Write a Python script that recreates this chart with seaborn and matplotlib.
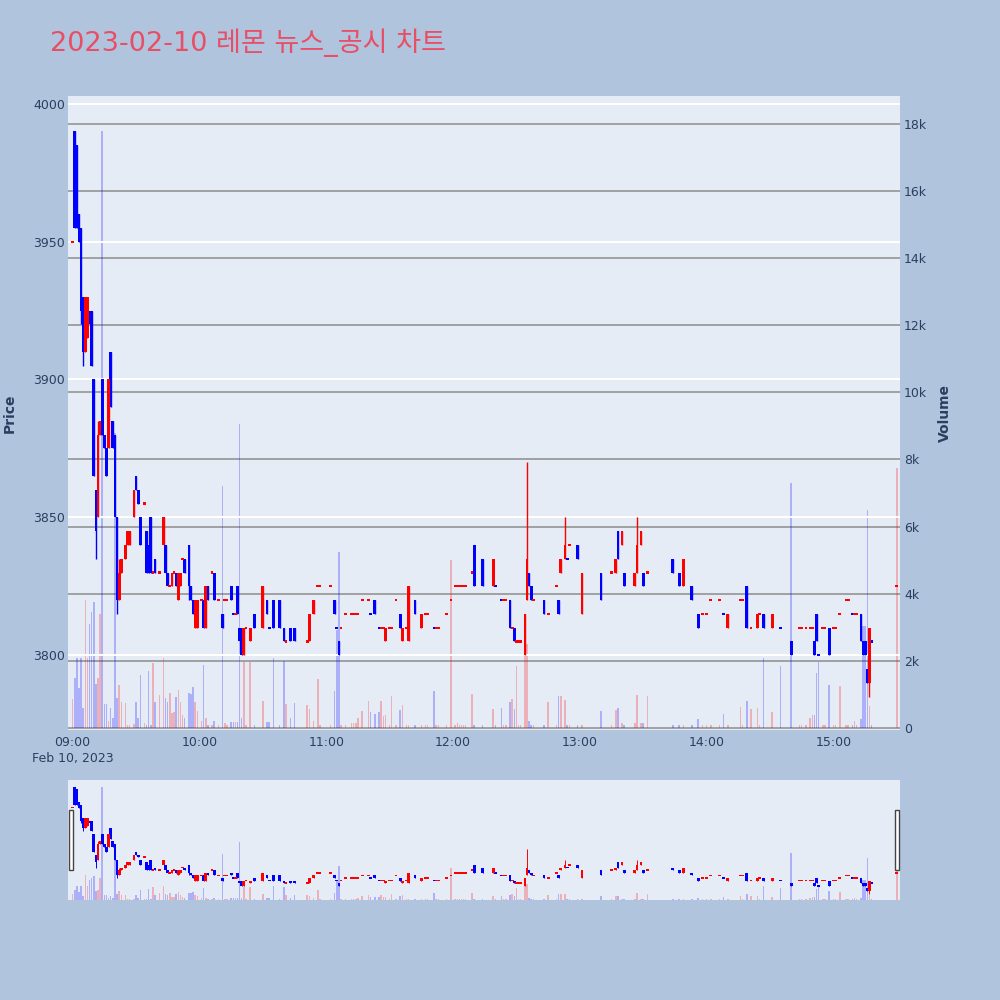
import numpy as np
import pandas as pd
import matplotlib
matplotlib.use("Agg")
import matplotlib.pyplot as plt
from matplotlib.patches import Rectangle
import seaborn as sns

# ---------------------------
# DATA (1-minute candles, minutes after 09:00 on 2023-02-10)
# ---------------------------
title = "2023-02-10 레몬 뉴스_공시 차트"

minute = [0, 1, 2, 3, 4, 5, 6, 7, 8, 9,
          10, 11, 12, 13, 14, 15, 16, 17, 18, 19,
          20, 21, 22, 23, 25, 26, 27, 29, 30, 31,
          32, 34, 35, 36, 37, 38, 39, 41, 43, 44,
          45, 46, 47, 48, 49, 50, 51, 52, 53, 55,
          56, 57, 58, 59, 61, 62, 63, 64, 66, 67,
          69, 71, 72, 73, 75, 76, 77, 78, 79, 80,
          81, 82, 84, 86, 90, 92, 93, 95, 98, 100,
          101, 103, 105, 111, 112, 114, 116, 117, 122, 124,
          125, 126, 127, 129, 132, 133, 134, 135, 137, 140,
          141, 143, 145, 146, 147, 148, 150, 151, 153, 155,
          156, 158, 159, 162, 165, 167, 168, 171, 172, 173,
          177, 179, 181, 182, 183, 184, 185, 186, 189, 190,
          194, 199, 200, 203, 204, 205, 207, 208, 209, 210,
          211, 212, 214, 215, 216, 217, 218, 223, 225, 229,
          230, 231, 233, 234, 235, 239, 241, 250, 255, 257,
          258, 260, 261, 266, 267, 269, 270, 272, 284, 287,
          289, 293, 296, 298, 300, 302, 306, 308, 310, 316,
          317, 319, 321, 324, 325, 327, 331, 335, 340, 344,
          345, 347, 349, 350, 351, 352, 353, 355, 356, 358,
          360, 361, 363, 366, 367, 369, 370, 371, 373, 374,
          375, 376, 377, 378, 390]

opens = [3950, 3990, 3985, 3960, 3955, 3930, 3910, 3915, 3925, 3925,
         3900, 3860, 3850, 3880, 3900, 3880, 3875, 3875, 3910, 3885,
         3880, 3850, 3820, 3830, 3835, 3840, 3840, 3850, 3865, 3860,
         3850, 3855, 3845, 3840, 3850, 3830, 3835, 3830, 3840, 3840,
         3830, 3825, 3825, 3830, 3830, 3820, 3825, 3835, 3835, 3840,
         3825, 3820, 3810, 3810, 3820, 3820, 3810, 3825, 3830, 3830,
         3820, 3815, 3820, 3820, 3825, 3815, 3815, 3825, 3810, 3810,
         3800, 3810, 3805, 3815, 3810, 3820, 3810, 3820, 3820, 3810,
         3805, 3810, 3810, 3805, 3805, 3815, 3825, 3825, 3825, 3820,
         3810, 3805, 3810, 3815, 3815, 3815, 3815, 3815, 3820, 3820,
         3815, 3820, 3810, 3810, 3810, 3805, 3810, 3810, 3820, 3815,
         3805, 3810, 3805, 3820, 3810, 3815, 3815, 3810, 3810, 3810,
         3815, 3820, 3825, 3825, 3825, 3825, 3825, 3825, 3830, 3840,
         3835, 3825, 3825, 3820, 3820, 3820, 3820, 3810, 3810, 3805,
         3805, 3805, 3800, 3820, 3830, 3825, 3820, 3820, 3815, 3825,
         3820, 3830, 3835, 3835, 3840, 3840, 3815, 3830, 3830, 3830,
         3845, 3840, 3830, 3825, 3830, 3840, 3830, 3830, 3835, 3830,
         3825, 3825, 3815, 3815, 3815, 3820, 3820, 3815, 3810, 3820,
         3820, 3825, 3810, 3810, 3815, 3815, 3810, 3810, 3805, 3810,
         3810, 3810, 3810, 3810, 3805, 3815, 3800, 3810, 3810, 3810,
         3810, 3810, 3815, 3820, 3820, 3815, 3815, 3815, 3815, 3805,
         3805, 3795, 3790, 3805, 3825]

highs = [3950, 3990, 3985, 3960, 3955, 3930, 3930, 3930, 3925, 3925,
         3900, 3860, 3885, 3885, 3900, 3880, 3875, 3900, 3910, 3885,
         3880, 3850, 3835, 3835, 3840, 3845, 3845, 3860, 3865, 3860,
         3850, 3855, 3845, 3840, 3850, 3830, 3835, 3830, 3850, 3840,
         3830, 3825, 3830, 3830, 3830, 3830, 3830, 3835, 3835, 3840,
         3825, 3820, 3820, 3820, 3820, 3820, 3825, 3825, 3830, 3830,
         3820, 3815, 3820, 3820, 3825, 3815, 3815, 3825, 3810, 3810,
         3810, 3810, 3810, 3815, 3825, 3820, 3810, 3820, 3820, 3810,
         3805, 3810, 3810, 3805, 3815, 3820, 3825, 3825, 3825, 3820,
         3810, 3805, 3810, 3815, 3815, 3815, 3815, 3815, 3820, 3820,
         3815, 3820, 3810, 3810, 3810, 3810, 3810, 3810, 3820, 3815,
         3810, 3810, 3825, 3820, 3815, 3815, 3815, 3810, 3810, 3810,
         3815, 3820, 3825, 3825, 3825, 3825, 3825, 3825, 3830, 3840,
         3835, 3835, 3825, 3820, 3820, 3820, 3820, 3810, 3810, 3805,
         3805, 3805, 3815, 3870, 3830, 3825, 3820, 3820, 3815, 3825,
         3820, 3835, 3850, 3835, 3840, 3840, 3830, 3830, 3830, 3835,
         3845, 3845, 3830, 3830, 3850, 3845, 3830, 3830, 3835, 3830,
         3835, 3825, 3815, 3815, 3815, 3820, 3820, 3815, 3815, 3820,
         3820, 3825, 3810, 3815, 3815, 3815, 3815, 3810, 3805, 3810,
         3810, 3810, 3810, 3810, 3805, 3815, 3800, 3810, 3810, 3810,
         3810, 3810, 3815, 3820, 3820, 3815, 3815, 3815, 3815, 3805,
         3805, 3795, 3810, 3805, 3825]

lows = [3950, 3955, 3955, 3950, 3920, 3905, 3910, 3915, 3920, 3905,
        3865, 3835, 3850, 3880, 3880, 3875, 3865, 3875, 3890, 3875,
        3850, 3815, 3820, 3830, 3835, 3840, 3840, 3850, 3860, 3855,
        3840, 3855, 3830, 3830, 3830, 3830, 3830, 3830, 3840, 3830,
        3825, 3825, 3825, 3830, 3825, 3820, 3825, 3835, 3830, 3820,
        3820, 3815, 3810, 3810, 3820, 3810, 3810, 3820, 3830, 3820,
        3820, 3810, 3820, 3820, 3820, 3815, 3815, 3815, 3805, 3800,
        3800, 3810, 3805, 3810, 3810, 3815, 3810, 3810, 3810, 3805,
        3805, 3805, 3805, 3805, 3805, 3815, 3825, 3825, 3825, 3815,
        3810, 3800, 3810, 3815, 3815, 3815, 3815, 3815, 3820, 3820,
        3815, 3815, 3810, 3810, 3810, 3805, 3810, 3810, 3820, 3810,
        3805, 3810, 3805, 3815, 3810, 3815, 3815, 3810, 3810, 3810,
        3815, 3820, 3825, 3825, 3825, 3825, 3825, 3825, 3830, 3825,
        3825, 3825, 3825, 3820, 3820, 3820, 3810, 3810, 3805, 3805,
        3805, 3805, 3800, 3820, 3825, 3820, 3820, 3815, 3815, 3825,
        3815, 3830, 3835, 3835, 3840, 3835, 3815, 3820, 3830, 3830,
        3835, 3840, 3825, 3825, 3830, 3840, 3825, 3830, 3830, 3825,
        3825, 3820, 3810, 3815, 3815, 3820, 3820, 3815, 3810, 3820,
        3820, 3810, 3810, 3810, 3815, 3810, 3810, 3810, 3800, 3810,
        3810, 3810, 3810, 3810, 3800, 3805, 3800, 3810, 3810, 3800,
        3810, 3810, 3815, 3820, 3820, 3815, 3815, 3815, 3805, 3800,
        3800, 3790, 3785, 3805, 3825]

closes = [3950, 3955, 3955, 3950, 3925, 3910, 3930, 3930, 3920, 3905,
          3865, 3845, 3880, 3885, 3880, 3875, 3865, 3900, 3890, 3875,
          3850, 3820, 3830, 3835, 3840, 3845, 3845, 3860, 3860, 3855,
          3840, 3855, 3830, 3830, 3830, 3830, 3830, 3830, 3850, 3830,
          3825, 3825, 3830, 3830, 3825, 3830, 3830, 3835, 3830, 3825,
          3820, 3815, 3820, 3820, 3820, 3810, 3825, 3820, 3830, 3820,
          3820, 3810, 3820, 3820, 3820, 3815, 3815, 3815, 3805, 3800,
          3810, 3810, 3810, 3810, 3825, 3815, 3810, 3810, 3810, 3805,
          3805, 3805, 3805, 3805, 3815, 3820, 3825, 3825, 3825, 3815,
          3810, 3800, 3810, 3815, 3815, 3815, 3815, 3815, 3820, 3820,
          3815, 3815, 3810, 3810, 3810, 3810, 3810, 3810, 3820, 3810,
          3810, 3810, 3825, 3815, 3815, 3815, 3815, 3810, 3810, 3810,
          3815, 3820, 3825, 3825, 3825, 3825, 3825, 3825, 3830, 3825,
          3825, 3835, 3825, 3820, 3820, 3820, 3810, 3810, 3805, 3805,
          3805, 3805, 3815, 3835, 3825, 3820, 3820, 3815, 3815, 3825,
          3815, 3835, 3840, 3835, 3840, 3835, 3830, 3820, 3830, 3835,
          3835, 3845, 3825, 3830, 3840, 3845, 3825, 3830, 3830, 3825,
          3835, 3820, 3810, 3815, 3815, 3820, 3820, 3815, 3815, 3820,
          3820, 3810, 3810, 3815, 3815, 3810, 3815, 3810, 3800, 3810,
          3810, 3810, 3810, 3810, 3800, 3805, 3800, 3810, 3810, 3800,
          3810, 3810, 3815, 3820, 3820, 3815, 3815, 3815, 3805, 3800,
          3800, 3790, 3810, 3805, 3825]

volumes = [850, 1500, 2080, 1180, 2080, 590, 3810, 2080, 3100, 3470,
           3760, 1300, 1500, 3400, 17800, 700, 700, 200, 600, 300,
           8800, 900, 1280, 780, 730, 100, 100, 120, 780, 300,
           1580, 150, 100, 1700, 100, 1930, 780, 980, 2080, 880,
           780, 1030, 440, 490, 930, 1130, 780, 390, 300, 1030,
           1000, 1230, 780, 500, 200, 1880, 300, 100, 100, 200,
           100, 7200, 150, 100, 190, 190, 190, 190, 9060, 290,
           1980, 100, 1980, 100, 810, 190, 190, 2100, 100, 2000,
           710, 300, 730, 670, 560, 200, 1460, 100, 100, 1090,
           2920, 5250, 100, 100, 150, 150, 150, 300, 500, 800,
           490, 420, 490, 800, 360, 400, 100, 960, 100, 540,
           680, 100, 100, 100, 100, 100, 100, 1110, 100, 100,
           100, 5020, 100, 160, 100, 100, 100, 100, 1000, 100,
           100, 580, 100, 600, 100, 100, 780, 850, 580, 1860,
           100, 100, 2500, 2500, 200, 100, 100, 100, 760, 100,
           950, 950, 830, 100, 100, 100, 100, 520, 100, 540,
           600, 150, 100, 150, 980, 150, 150, 950, 100, 100,
           100, 100, 260, 100, 100, 100, 100, 420, 100, 640,
           100, 810, 570, 590, 100, 2100, 490, 1860, 7290, 100,
           100, 100, 290, 390, 390, 1650, 1980, 100, 100, 1280,
           100, 100, 1260, 100, 100, 100, 200, 100, 280, 3040,
           3040, 6500, 650, 100, 7740]

tick_minutes = [0, 60, 120, 180, 240, 300, 360]
tick_labels = ["09:00\nFeb 10, 2023", "10:00", "11:00", "12:00", "13:00", "14:00", "15:00"]
price_ticks = [3800, 3850, 3900, 3950, 4000]
volume_ticks = [0, 2000, 4000, 6000, 8000, 10000, 12000, 14000, 16000, 18000]
volume_tick_labels = ["0", "2k", "4k", "6k", "8k", "10k", "12k", "14k", "16k", "18k"]

# ---------------------------
# PREP
# ---------------------------
df = pd.DataFrame({"minute": minute, "open": opens, "high": highs,
                   "low": lows, "close": closes, "volume": volumes})
prev_close = df["close"].shift(1).fillna(df["close"])
rising = (df["close"] > df["open"]) | ((df["close"] == df["open"]) & (df["close"] >= prev_close))
df["dir"] = np.where(rising, "up", "down")

palette = {"up": "#FF0000", "down": "#0000FF"}
page_bg = "#B0C4DE"
plot_bg = "#E5ECF6"
text_col = "#2a3f5f"

sns.set_theme(style="white")
plt.rcParams["font.family"] = ["DejaVu Sans", "Noto Sans CJK KR"]

fig = plt.figure(figsize=(10, 10), dpi=100, facecolor=page_bg)


def draw_panel(ax_vol, ax_price, body_w, wick_lw, doji_h, shrink):
    sns.histplot(data=df, x="minute", weights="volume", hue="dir",
                 hue_order=["up", "down"], palette=palette, discrete=True,
                 shrink=shrink, alpha=0.25, linewidth=0, legend=False, ax=ax_vol)
    for d, grp in df.groupby("dir"):
        col = palette[d]
        ax_price.vlines(grp["minute"], grp["low"], grp["high"], color=col, lw=wick_lw, zorder=3)
        body = (grp["close"] - grp["open"]).abs()
        flat = body == 0
        height = np.where(flat, doji_h, body)
        bottom = np.minimum(grp["open"], grp["close"]) - np.where(flat, doji_h / 2, 0)
        ax_price.bar(grp["minute"], height, bottom=bottom, width=body_w,
                     color=col, linewidth=0, zorder=4)
    ax_vol.set_facecolor(plot_bg)
    ax_vol.set_xlim(-2.2, 391.5)
    ax_vol.set_ylim(-60, 18830)
    ax_price.set_ylim(3772.9, 4002.8)
    ax_vol.set_xlabel("")
    ax_vol.set_ylabel("")
    for a in (ax_vol, ax_price):
        for s in a.spines.values():
            s.set_visible(False)


# main chart: volume axis underneath, price axis on top
ax_vol = fig.add_axes([0.068, 0.270, 0.832, 0.634])
ax_price = ax_vol.twinx()
draw_panel(ax_vol, ax_price, body_w=1.3, wick_lw=1.0, doji_h=0.8, shrink=0.7)

ax_price.yaxis.set_ticks_position("left")
ax_vol.yaxis.set_ticks_position("right")
ax_price.set_yticks(price_ticks)
ax_vol.set_yticks(volume_ticks, volume_tick_labels)
ax_vol.set_xticks(tick_minutes, tick_labels)
for lbl in ax_vol.get_xticklabels():
    lbl.set_linespacing(1.3)
ax_vol.tick_params(axis="both", length=0, labelsize=9, labelcolor=text_col)
ax_vol.tick_params(axis="x", pad=4)
ax_vol.tick_params(axis="y", pad=3)
ax_price.tick_params(axis="y", length=0, labelsize=9, labelcolor=text_col, pad=2)

ax_vol.grid(False)
ax_vol.yaxis.grid(True, color="#8c8c8c", lw=1.1)
ax_price.grid(False)
ax_price.yaxis.grid(True, color="white", lw=1.5)
ax_price.set_axisbelow(True)

# range slider
ax_svol = fig.add_axes([0.068, 0.100, 0.832, 0.120])
ax_sprice = ax_svol.twinx()
draw_panel(ax_svol, ax_sprice, body_w=1.3, wick_lw=0.7, doji_h=3.0, shrink=0.7)
for a in (ax_svol, ax_sprice):
    a.set_xticks([])
    a.set_yticks([])
    a.grid(False)
for xh in (0.0012, 0.9940):
    ax_sprice.add_patch(Rectangle((xh, 0.25), 0.0050, 0.5, transform=ax_sprice.transAxes,
                                  facecolor="white", edgecolor="#444444", lw=1.0,
                                  clip_on=False, zorder=10))

# texts
fig.text(0.050, 0.9493, title, color="#E84F67", fontsize=19.5, ha="left", va="baseline")
fig.text(0.010, 0.587, "Price", rotation=90, ha="center", va="center",
         fontsize=10, fontweight="bold", color=text_col)
fig.text(0.945, 0.587, "Volume", rotation=90, ha="center", va="center",
         fontsize=10, fontweight="bold", color=text_col)

fig.savefig("out.png", dpi=100, facecolor=fig.get_facecolor())
